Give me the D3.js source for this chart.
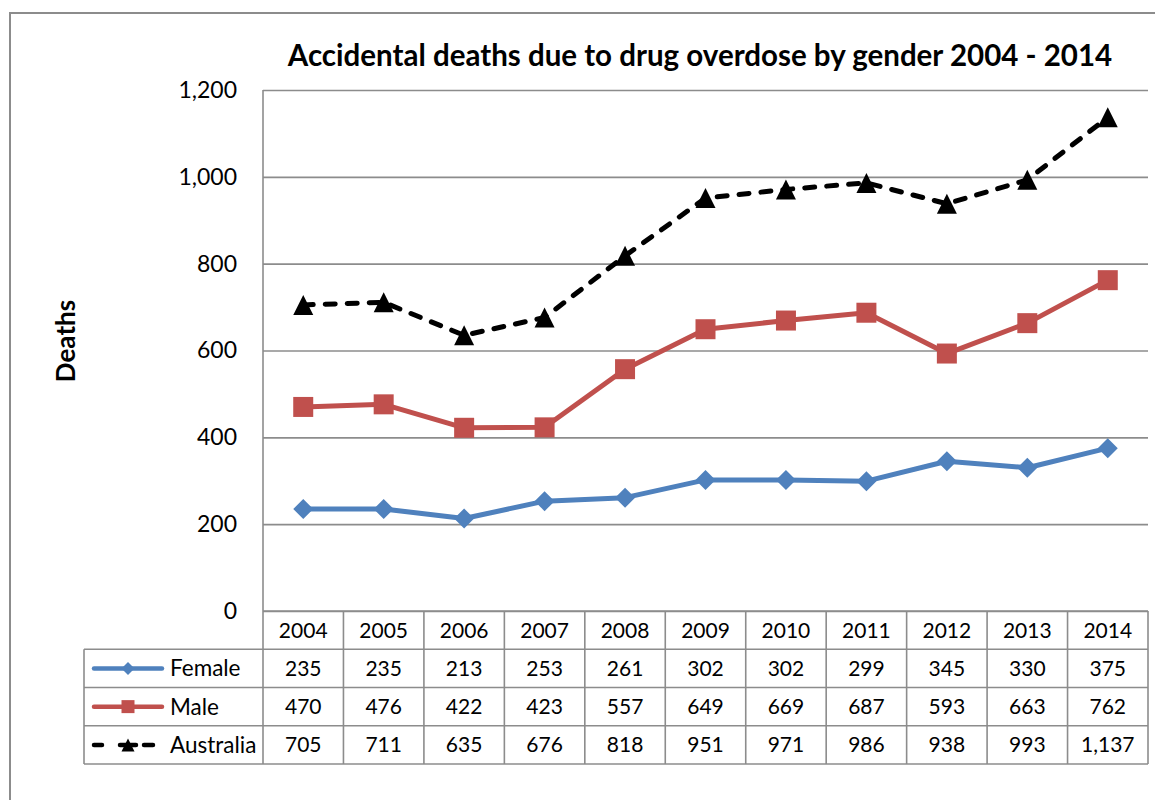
<!DOCTYPE html>
<html>
<head>
<meta charset="utf-8">
<script src="https://cdn.jsdelivr.net/npm/d3@7"></script>
<style>
  body { margin: 0; background: #fff; }
  text { font-family: Lato, "Open Sans", sans-serif; fill: #000; }
</style>
</head>
<body>
<svg id="chart" width="1155" height="800"></svg>
<script>
// Accidental drug overdose deaths, 2004-2014
const years = ["2004","2005","2006","2007","2008","2009","2010","2011","2012","2013","2014"];
const female = [235, 235, 213, 253, 261, 302, 302, 299, 345, 330, 375];
const male = [470, 476, 422, 423, 557, 649, 669, 687, 593, 663, 762];
const australia = [705, 711, 635, 676, 818, 951, 971, 986, 938, 993, 1137];
const yTicks = [0, 200, 400, 600, 800, 1000, 1200];
const seriesNames = ["Female", "Male", "Australia"];
const titleText = "Accidental deaths due to drug overdose by gender 2004 - 2014";
const yTitle = "Deaths";

const series = [
  { name: seriesNames[0], values: female, color: "#4F81BD", marker: "diamond", dash: null },
  { name: seriesNames[1], values: male, color: "#C0504D", marker: "square", dash: null },
  { name: seriesNames[2], values: australia, color: "#000000", marker: "triangle", dash: "10,12" }
];

const svg = d3.select("#chart");
const gridColor = "#8c8c8c";

// outer chart frame (right and bottom edges run off the page)
svg.append("rect")
  .attr("x", 10).attr("y", 13).attr("width", 1170).attr("height", 820)
  .attr("fill", "none").attr("stroke", gridColor).attr("stroke-width", 2);

const plot = { left: 263, right: 1148, top: 90, bottom: 611 };

const x = d3.scaleBand().domain(years).range([plot.left, plot.right]);
const y = d3.scaleLinear().domain([0, 1200]).range([plot.bottom, plot.top]);

// title
svg.append("text")
  .attr("x", 700).attr("y", 66)
  .attr("text-anchor", "middle")
  .style("font-size", "29.5px").style("font-weight", "bold")
  .text(titleText);

// y axis title
svg.append("text")
  .attr("transform", "translate(75,341) rotate(-90)")
  .attr("text-anchor", "middle")
  .style("font-size", "26px").style("font-weight", "bold")
  .text(yTitle);

// horizontal gridlines + value labels
const yAxis = svg.append("g")
  .attr("transform", `translate(${plot.left},0)`)
  .call(d3.axisLeft(y).tickValues(yTicks).tickFormat(d3.format(","))
    .tickSize(-(plot.right - plot.left)).tickPadding(26));
yAxis.select(".domain").remove();
yAxis.selectAll(".tick line").attr("stroke", gridColor).attr("stroke-width", 1.6);
yAxis.selectAll(".tick text").style("font-size", "23px").style("font-family", "Lato, sans-serif")
  .attr("fill", "#000");

// vertical axis line
svg.append("line")
  .attr("x1", plot.left).attr("x2", plot.left)
  .attr("y1", plot.top).attr("y2", plot.bottom)
  .attr("stroke", gridColor).attr("stroke-width", 1.6);

// marker shapes
function markerPath(type, r) {
  if (type === "diamond") return `M0,${-r}L${r},0L0,${r}L${-r},0Z`;
  if (type === "square") return `M${-r},${-r}H${r}V${r}H${-r}Z`;
  return `M0,${-r}L${r},${r}L${-r},${r}Z`;
}

const line = d3.line()
  .x((d, i) => x(years[i]) + x.bandwidth() / 2)
  .y(d => y(d));

series.forEach(s => {
  const g = svg.append("g");
  g.append("path")
    .attr("d", line(s.values))
    .attr("fill", "none")
    .attr("stroke", s.color)
    .attr("stroke-width", 5)
    .attr("stroke-linejoin", "round")
    .attr("stroke-linecap", "round")
    .attr("stroke-dasharray", s.dash);
  g.selectAll("path.pt").data(s.values).join("path")
    .attr("class", "pt")
    .attr("transform", (d, i) => `translate(${x(years[i]) + x.bandwidth() / 2},${y(d)})`)
    .attr("d", markerPath(s.marker, 10))
    .attr("fill", s.color);
});

// data table
const rows = d3.scaleBand().domain(["year"].concat(seriesNames)).range([plot.bottom, 764]);
const legendLeft = 84;
const fmt = d3.format(",");
const table = svg.append("g");

// horizontal table rules
rows.domain().forEach(r => {
  const yy = rows(r) + rows.bandwidth();
  table.append("line")
    .attr("x1", legendLeft).attr("x2", plot.right)
    .attr("y1", yy).attr("y2", yy)
    .attr("stroke", gridColor).attr("stroke-width", 1.6);
});
table.append("line")
  .attr("x1", plot.left).attr("x2", plot.right)
  .attr("y1", plot.bottom).attr("y2", plot.bottom)
  .attr("stroke", gridColor).attr("stroke-width", 1.6);

// vertical table rules
years.forEach(yr => {
  table.append("line")
    .attr("x1", x(yr)).attr("x2", x(yr))
    .attr("y1", plot.bottom).attr("y2", 764)
    .attr("stroke", gridColor).attr("stroke-width", 1.6);
});
table.append("line")
  .attr("x1", plot.right).attr("x2", plot.right)
  .attr("y1", plot.bottom).attr("y2", 764)
  .attr("stroke", gridColor).attr("stroke-width", 1.6);
table.append("line")
  .attr("x1", legendLeft).attr("x2", legendLeft)
  .attr("y1", rows("Female")).attr("y2", 764)
  .attr("stroke", gridColor).attr("stroke-width", 1.6);

// year header
years.forEach(yr => {
  table.append("text")
    .attr("x", x(yr) + x.bandwidth() / 2)
    .attr("y", rows("year") + rows.bandwidth() / 2)
    .attr("dy", "0.36em")
    .attr("text-anchor", "middle")
    .style("font-size", "21px")
    .text(yr);
});

// series rows: legend key, name, values
series.forEach(s => {
  const cy = rows(s.name) + rows.bandwidth() / 2;
  table.append("line")
    .attr("x1", 94).attr("x2", 162)
    .attr("y1", cy).attr("y2", cy)
    .attr("stroke", s.color).attr("stroke-width", 4.5)
    .attr("stroke-linecap", "round")
    .attr("stroke-dasharray", s.dash ? "8,18,16,8,9,20" : null);
  table.append("path")
    .attr("transform", `translate(128,${cy})`)
    .attr("d", markerPath(s.marker, 6.5))
    .attr("fill", s.color);
  table.append("text")
    .attr("x", 170).attr("y", cy).attr("dy", "0.36em")
    .style("font-size", "22.5px")
    .text(s.name);
  s.values.forEach((v, i) => {
    table.append("text")
      .attr("x", x(years[i]) + x.bandwidth() / 2)
      .attr("y", cy).attr("dy", "0.36em")
      .attr("text-anchor", "middle")
      .style("font-size", "21px")
      .text(fmt(v));
  });
});
</script>
</body>
</html>
